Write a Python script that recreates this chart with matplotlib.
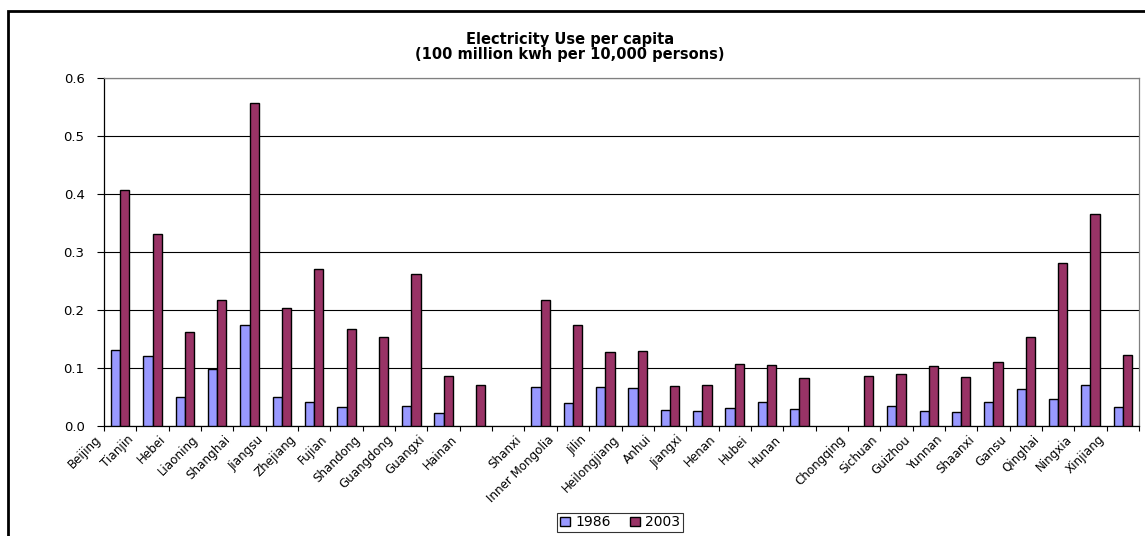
import numpy as np
import matplotlib
matplotlib.use("Agg")
import matplotlib.pyplot as plt
from matplotlib.patches import Rectangle

# provinces grouped east / central / west, blank slot between the groups
provinces = ["Beijing", "Tianjin", "Hebei", "Liaoning", "Shanghai", "Jiangsu",
             "Zhejiang", "Fujian", "Shandong", "Guangdong", "Guangxi", "Hainan",
             "",
             "Shanxi", "Inner Mongolia", "Jilin", "Heilongjiang", "Anhui",
             "Jiangxi", "Henan", "Hubei", "Hunan",
             "",
             "Chongqing", "Sichuan", "Guizhou", "Yunnan", "Shaanxi", "Gansu",
             "Qinghai", "Ningxia", "Xinjiang"]

nan = np.nan
use_1986 = [0.131, 0.121, 0.050, 0.099, 0.175, 0.050, 0.041, 0.032, nan, 0.035,
            0.023, nan,
            nan,
            0.067, 0.039, 0.067, 0.065, 0.028, 0.026, 0.031, 0.042, 0.030,
            nan,
            nan, 0.034, 0.026, 0.024, 0.041, 0.063, 0.047, 0.071, 0.033]
use_2003 = [0.407, 0.331, 0.162, 0.218, 0.557, 0.203, 0.271, 0.167, 0.153, 0.262,
            0.086, 0.071,
            nan,
            0.218, 0.175, 0.127, 0.129, 0.069, 0.071, 0.107, 0.105, 0.082,
            nan,
            0.086, 0.089, 0.103, 0.085, 0.110, 0.154, 0.281, 0.365, 0.122]

yticks = [0.0, 0.1, 0.2, 0.3, 0.4, 0.5, 0.6]

W, H = 1145, 536
fig = plt.figure(figsize=(W / 100, H / 100), dpi=100)
ax = fig.add_axes([104 / W, 1 - 426 / H, 1035 / W, 348 / H])

x = np.arange(len(provinces))
w = 1 / 3.5
ax.bar(x - w / 2, use_1986, w, color="#9999FF", edgecolor="black", linewidth=1.0,
       label="1986", zorder=3)
ax.bar(x + w / 2, use_2003, w, color="#993366", edgecolor="black", linewidth=1.0,
       label="2003", zorder=3)

ax.set_xlim(-0.5, len(provinces) - 0.5)
ax.set_ylim(0, 0.6)
ax.set_yticks(yticks)
ax.set_yticklabels(["%.1f" % v for v in yticks], fontsize=9.5)
ax.set_xticks(np.arange(len(provinces) + 1) - 0.5)
ax.set_xticklabels(provinces + [""], rotation=45, ha="right", va="top",
                   fontsize=8.6)

ax.set_axisbelow(True)
ax.yaxis.grid(True, color="black", linewidth=0.8)
ax.tick_params(axis="y", direction="out", length=5, width=0.8, pad=9)
ax.tick_params(axis="x", direction="out", length=3.5, width=0.8, pad=1.5)

for s in ["left", "bottom"]:
    ax.spines[s].set_color("black")
    ax.spines[s].set_linewidth(0.9)
for s in ["top", "right"]:
    ax.spines[s].set_color("#808080")
    ax.spines[s].set_linewidth(0.9)

fig.text(570 / W, 1 - 47 / H,
         "Electricity Use per capita\n(100 million kwh per 10,000 persons)",
         ha="center", va="center", fontsize=10.5, fontweight="bold",
         linespacing=1.05)

leg = fig.legend(loc="center", bbox_to_anchor=(620 / W, 1 - 522.5 / H), ncol=2,
                 fontsize=10, frameon=True, fancybox=False, shadow=False,
                 handlelength=0.75, handleheight=0.55, handletextpad=0.35,
                 columnspacing=1.4, borderpad=0.2, borderaxespad=0)
leg.get_frame().set_edgecolor("black")
leg.get_frame().set_linewidth(0.8)

# outer chart border
fig.patches.append(Rectangle((8 / W, -0.1), 1.2, 1.1 - 11 / H,
                             transform=fig.transFigure, fill=False,
                             edgecolor="black", linewidth=2, zorder=10))

fig.savefig("out.png", dpi=100)
